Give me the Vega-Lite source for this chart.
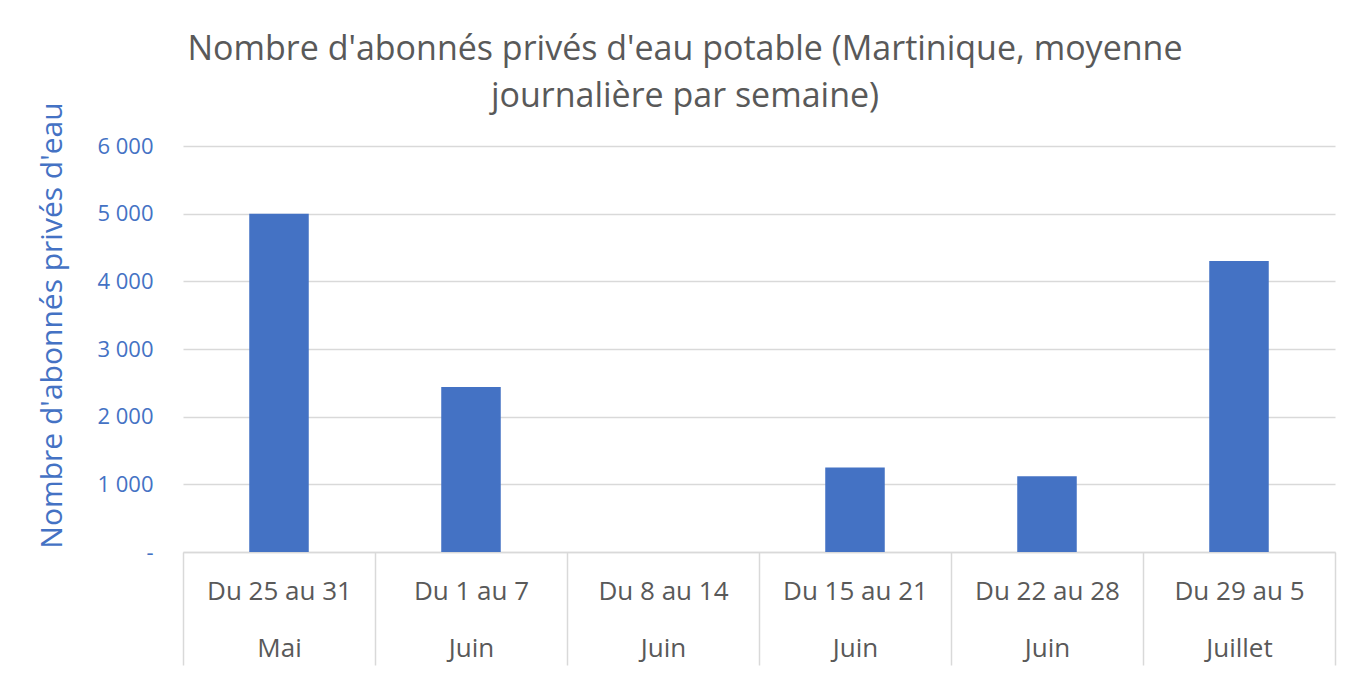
{
  "$schema": "https://vega.github.io/schema/vega-lite/v6.json",
  "width": 1152,
  "height": 406,
  "autosize": {"type": "none"},
  "padding": {"left": 183, "top": 146, "right": 15, "bottom": 122},
  "background": "white",
  "config": {
    "font": "Open Sans",
    "view": {"stroke": null}
  },
  "title": {
    "text": ["Nombre d'abonnés privés d'eau potable (Martinique, moyenne", "journalière par semaine)"],
    "font": "Open Sans",
    "fontSize": 34,
    "fontWeight": "normal",
    "color": "#595959",
    "anchor": "middle",
    "frame": "group",
    "dx": -74,
    "offset": -12,
    "lineHeight": 47
  },
  "data": {
    "values": [
      {"semaine": "Du 25 au 31|Mai", "abonnes": 5000},
      {"semaine": "Du 1 au 7|Juin", "abonnes": 2440},
      {"semaine": "Du 8 au 14|Juin", "abonnes": 0},
      {"semaine": "Du 15 au 21|Juin", "abonnes": 1250},
      {"semaine": "Du 22 au 28|Juin", "abonnes": 1120},
      {"semaine": "Du 29 au 5|Juillet", "abonnes": 4300}
    ]
  },
  "mark": {"type": "bar", "color": "#4472C4", "width": {"band": 0.31}},
  "encoding": {
    "x": {
      "field": "semaine",
      "type": "nominal",
      "sort": null,
      "scale": {"paddingInner": 0, "paddingOuter": 0},
      "axis": {
        "title": null,
        "labelAngle": 0,
        "labelExpr": "split(datum.label, '|')",
        "labelFont": "Open Sans",
        "labelFontSize": 26,
        "labelColor": "#595959",
        "labelLineHeight": 57,
        "labelBaseline": "middle",
        "labelPadding": -74,
        "tickBand": "extent",
        "tickSize": 113,
        "tickColor": "#d9d9d9",
        "tickWidth": 1.5,
        "domainColor": "#d9d9d9",
        "domainWidth": 1.5
      }
    },
    "y": {
      "field": "abonnes",
      "type": "quantitative",
      "scale": {"domain": [0, 6000], "nice": false},
      "axis": {
        "values": [0, 1000, 2000, 3000, 4000, 5000, 6000],
        "labelExpr": "datum.value == 0 ? '-' : replace(format(datum.value, ','), ',', ' ')",
        "labelFont": "Open Sans",
        "labelFontSize": 22,
        "labelColor": "#4472C4",
        "labelPadding": 30,
        "ticks": false,
        "domain": false,
        "gridColor": "#d9d9d9",
        "gridWidth": 1.5,
        "title": "Nombre d'abonnés privés d'eau",
        "titleFont": "Open Sans",
        "titleFontSize": 30,
        "titleFontWeight": "normal",
        "titleColor": "#4472C4",
        "titleX": -131,
        "titleY": 179,
        "titleAlign": "center",
        "titleBaseline": "middle",
        "titleAngle": -90
      }
    }
  }
}
